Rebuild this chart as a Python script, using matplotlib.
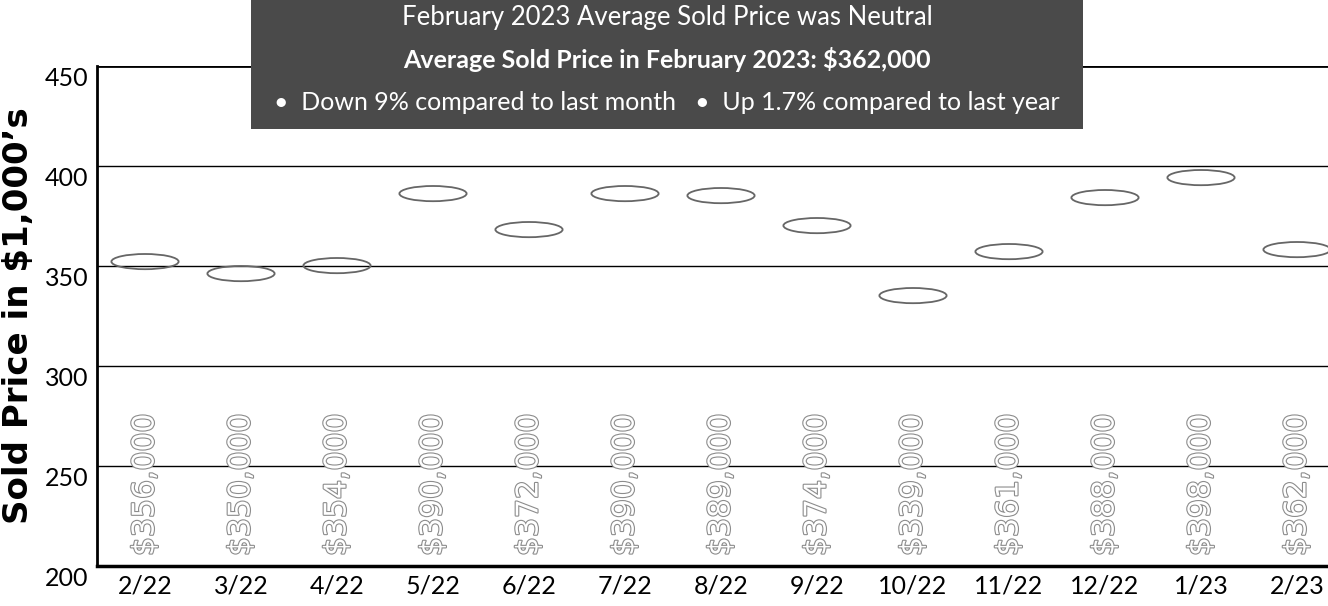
import matplotlib
matplotlib.use('Agg')
import matplotlib.pyplot as plt
import matplotlib.patheffects as pe
import matplotlib.transforms as mtransforms
from matplotlib.patches import Ellipse, Rectangle

# Data
months = ['2/22', '3/22', '4/22', '5/22', '6/22', '7/22', '8/22',
          '9/22', '10/22', '11/22', '12/22', '1/23', '2/23']
prices = [356, 350, 354, 390, 372, 390, 389, 374, 339, 361, 388, 398, 362]
yticks = [200, 250, 300, 350, 400, 450]

narrow = ['Lato', 'DejaVu Sans']

fig = plt.figure(figsize=(13.28, 6.06), dpi=100)
ax = fig.add_axes([97 / 1328, 40 / 606, 1248 / 1328, 500 / 606])

ax.set_xlim(-0.5, len(months) - 0.5)
ax.set_ylim(200, 450)

# gridlines
for y in yticks[1:]:
    ax.axhline(y, color='black', lw=2.0 if y == 450 else 1.0, zorder=1)

# ellipse markers (top edge sits at the value)
for i, p in enumerate(prices):
    ax.add_patch(Ellipse((i, p - 3.8), 0.7, 7.6, facecolor='none',
                         edgecolor='#666666', lw=1.3, zorder=3))

# outlined value labels
for i, p in enumerate(prices):
    ax.text(i, 205, f'${p},000', rotation=90, ha='center', va='bottom',
            fontsize=21.5, color='white', family='DejaVu Sans', zorder=2,
            path_effects=[pe.withStroke(linewidth=1.6, foreground='#8c8c8c')])

for s in ['top', 'right']:
    ax.spines[s].set_visible(False)
ax.spines['left'].set_linewidth(2)
ax.spines['bottom'].set_linewidth(2.5)

ax.set_xticks(range(len(months)))
ax.set_xticklabels(months, fontsize=18, family=narrow)
ax.set_yticks(yticks)
ax.set_yticklabels([str(t) for t in yticks], fontsize=18, family=narrow)
ax.tick_params(length=0, pad=6)
shift = mtransforms.ScaledTranslation(0, -10 / 100, fig.dpi_scale_trans)
for lab in ax.get_yticklabels():
    lab.set_transform(lab.get_transform() + shift)

ax.set_ylabel('Sold Price in $1,000\u2019s', fontsize=24.5, fontweight='bold',
              family='DejaVu Sans')
ax.yaxis.set_label_coords(-62 / 1248, 0.5)

# title box
fig.patches.append(Rectangle((251 / 1328, 477 / 606), 832 / 1328, 129 / 606,
                             transform=fig.transFigure, facecolor='#4a4a4a',
                             edgecolor='none', zorder=5))
fig.text(667 / 1328, 1 - 17 / 606, 'February 2023 Average Sold Price was Neutral',
         ha='center', va='center', color='white', fontsize=18.5, family=narrow,
         zorder=6)
fig.text(667 / 1328, 1 - 60 / 606, 'Average Sold Price in February 2023: $362,000',
         ha='center', va='center', color='white', fontsize=18, fontweight='bold',
         family=narrow, zorder=6)
fig.text(667 / 1328, 1 - 103 / 606,
         '\u2022  Down 9% compared to last month   \u2022  Up 1.7% compared to last year',
         ha='center', va='center', color='white', fontsize=18, family=narrow,
         zorder=6)

fig.savefig('out.png', dpi=100)
